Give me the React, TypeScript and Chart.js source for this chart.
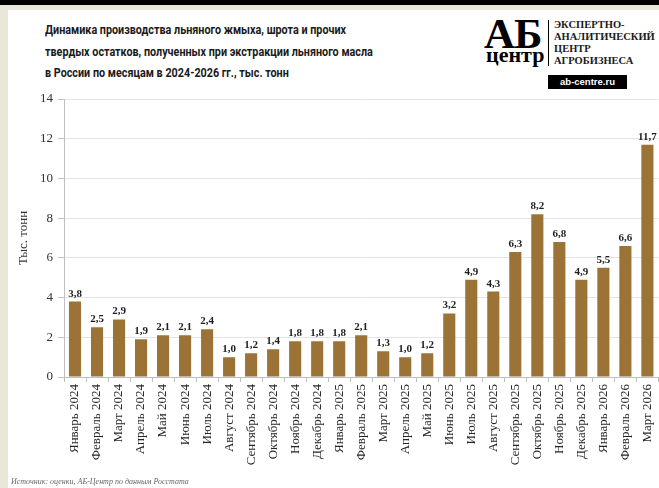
import React, { useEffect, useRef } from "react";
import { Chart, registerables } from "chart.js";

Chart.register(...registerables);

const categories: string[] = [
  "Январь 2024", "Февраль 2024", "Март 2024", "Апрель 2024", "Май 2024", "Июнь 2024",
  "Июль 2024", "Август 2024", "Сентябрь 2024", "Октябрь 2024", "Ноябрь 2024", "Декабрь 2024",
  "Январь 2025", "Февраль 2025", "Март 2025", "Апрель 2025", "Май 2025", "Июнь 2025",
  "Июль 2025", "Август 2025", "Сентябрь 2025", "Октябрь 2025", "Ноябрь 2025", "Декабрь 2025",
  "Январь 2026", "Февраль 2026", "Март 2026",
];

const values: number[] = [
  3.8, 2.5, 2.9, 1.9, 2.1, 2.1, 2.4, 1.0, 1.2, 1.4, 1.8, 1.8,
  1.8, 2.1, 1.3, 1.0, 1.2, 3.2, 4.9, 4.3, 6.3, 8.2, 6.8, 4.9,
  5.5, 6.6, 11.7,
];

const titleLines: string[] = [
  "Динамика производства льняного жмыха, шрота и прочих",
  "твердых остатков, полученных при экстракции льняного масла",
  "в России по месяцам в 2024-2026 гг., тыс. тонн",
];

const yAxisTitle = "Тыс. тонн";
const logoLines: string[] = ["ЭКСПЕРТНО-", "АНАЛИТИЧЕСКИЙ", "ЦЕНТР", "АГРОБИЗНЕСА"];
const sourceText = "Источник: оценки, АБ-Центр по данным Росстата";

const serif = "'Liberation Serif', 'DejaVu Serif', serif";

const valueLabels = {
  id: "valueLabels",
  afterDatasetsDraw(chart: any) {
    const ctx = chart.ctx;
    const meta = chart.getDatasetMeta(0);
    ctx.save();
    ctx.font = `bold 11px ${serif}`;
    ctx.fillStyle = "#1f1f1f";
    ctx.textAlign = "center";
    ctx.textBaseline = "alphabetic";
    meta.data.forEach((bar: any, i: number) => {
      const v = chart.data.datasets[0].data[i] as number;
      ctx.fillText(v.toFixed(1).replace(".", ","), bar.x, bar.y - 5);
    });
    ctx.restore();
  },
};

export default function App() {
  const ref = useRef<HTMLCanvasElement>(null);

  useEffect(() => {
    const chart = new Chart(ref.current!, {
      type: "bar",
      data: {
        labels: categories,
        datasets: [
          {
            data: values,
            backgroundColor: "#9b7336",
            barPercentage: 0.55,
            categoryPercentage: 1,
          },
        ],
      },
      options: {
        animation: false,
        responsive: false,
        maintainAspectRatio: false,
        layout: { padding: { left: 0, top: 14, right: 0, bottom: 0 } },
        plugins: {
          legend: { display: false },
          tooltip: { enabled: false },
        },
        scales: {
          x: {
            afterFit: (s: any) => {
              s.height = 108;
            },
            grid: {
              display: true,
              drawOnChartArea: false,
              offset: true,
              tickLength: 5,
              tickColor: "#bfbfbf",
            },
            border: { color: "#bfbfbf" },
            ticks: {
              minRotation: 90,
              maxRotation: 90,
              autoSkip: false,
              padding: 2,
              color: "#262626",
              font: { family: serif, size: 13 },
            },
          },
          y: {
            min: 0,
            max: 14,
            afterFit: (s: any) => {
              s.width = 56;
            },
            grid: {
              color: "#e4e4e4",
              tickColor: "#bfbfbf",
              tickLength: 6,
            },
            border: { color: "#bfbfbf" },
            ticks: {
              stepSize: 2,
              padding: 5,
              color: "#333333",
              font: { family: serif, size: 13 },
            },
            title: {
              display: true,
              text: yAxisTitle,
              color: "#333333",
              font: { family: serif, size: 13 },
              padding: { top: 8, bottom: 0 },
            },
          },
        },
      },
      plugins: [valueLabels],
    });
    return () => chart.destroy();
  }, []);

  return (
    <div
      style={{
        position: "fixed",
        left: 0,
        top: 0,
        width: 659,
        height: 488,
        background: "#ffffff",
        overflow: "hidden",
      }}
    >
      <div style={{ position: "absolute", left: 0, top: 0, width: 659, height: 5, background: "#000" }} />
      <div style={{ position: "absolute", left: 0, top: 5, width: 659, height: 5, background: "#e9e7da" }} />
      <div style={{ position: "absolute", left: 0, top: 5, width: 8, height: 483, background: "#e9e7da" }} />

      {titleLines.map((t, i) => (
        <div
          key={i}
          style={{
            position: "absolute",
            left: 45,
            top: 21 + i * 21.5,
            fontFamily: "Roboto, 'Open Sans', sans-serif",
            fontWeight: 700,
            fontSize: 12.7,
            color: "#1a1a1a",
            whiteSpace: "nowrap",
            lineHeight: "18px",
            transformOrigin: "left top",
            transform: "scaleX(0.85)",
          }}
        >
          {t}
        </div>
      ))}

      <div
        style={{
          position: "absolute",
          left: 484,
          top: 12,
          fontFamily: serif,
          fontWeight: 700,
          fontSize: 43,
          lineHeight: "44px",
          color: "#000",
          letterSpacing: -1,
        }}
      >
        АБ
      </div>
      <div
        style={{
          position: "absolute",
          left: 486,
          top: 43,
          fontFamily: serif,
          fontWeight: 700,
          fontSize: 22,
          lineHeight: "24px",
          color: "#000",
        }}
      >
        центр
      </div>
      <div style={{ position: "absolute", left: 548, top: 20, width: 1, height: 46, background: "#000" }} />
      {logoLines.map((t, i) => (
        <div
          key={i}
          style={{
            position: "absolute",
            left: 554,
            top: 19 + i * 12,
            fontFamily: serif,
            fontWeight: 700,
            fontSize: 10.5,
            lineHeight: "12px",
            letterSpacing: 0,
            color: "#1a1a1a",
            whiteSpace: "nowrap",
          }}
        >
          {t}
        </div>
      ))}
      <div
        style={{
          position: "absolute",
          left: 548,
          top: 75,
          width: 79,
          height: 14,
          background: "#000",
          color: "#fff",
          fontFamily: "'Liberation Sans', Arial, sans-serif",
          fontWeight: 700,
          fontSize: 9.5,
          lineHeight: "14px",
          textAlign: "center",
        }}
      >
        ab-centre.ru
      </div>

      <canvas
        ref={ref}
        width={657}
        height={400}
        style={{ position: "absolute", left: 8, top: 85, width: 657, height: 400 }}
      />

      <div
        style={{
          position: "absolute",
          left: 11,
          top: 477,
          fontFamily: serif,
          fontStyle: "italic",
          fontSize: 8,
          color: "#666",
          whiteSpace: "nowrap",
        }}
      >
        {sourceText}
      </div>
    </div>
  );
}
